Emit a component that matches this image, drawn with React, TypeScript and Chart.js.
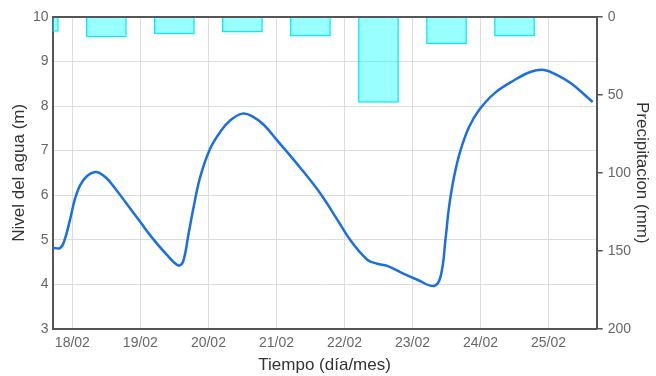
import React, { useEffect, useRef } from "react";
import { Chart, registerables } from "chart.js";

Chart.register(...registerables);

// Water level samples: time in days (day-of-month, February), level in metres
const levelDays = [
  17.715, 17.818, 17.877, 17.966, 18.039, 18.113, 18.216, 18.334, 18.408, 18.496,
  18.584, 18.801, 18.997, 19.174, 19.39, 19.561, 19.63, 19.708, 19.782, 19.88,
  20.028, 20.175, 20.322, 20.499, 20.646, 20.813, 21.01, 21.353, 21.648, 21.894,
  22.09, 22.336, 22.483, 22.63, 22.874, 23.072, 23.316, 23.415, 23.489, 23.537,
  23.611, 23.707, 23.832, 23.979, 24.2, 24.495, 24.741, 24.936, 25.134, 25.33,
  25.649,
];
const levelValues = [
  4.82, 4.81, 4.95, 5.45, 5.92, 6.22, 6.43, 6.52, 6.49, 6.39,
  6.24, 5.8, 5.4, 5.04, 4.66, 4.42, 4.52, 5.13, 5.73, 6.41,
  7.05, 7.42, 7.68, 7.83, 7.77, 7.58, 7.23, 6.61, 6.03, 5.45,
  4.98, 4.55, 4.46, 4.41, 4.23, 4.1, 3.96, 4.18, 5.06, 5.73,
  6.41, 7.01, 7.53, 7.91, 8.28, 8.58, 8.77, 8.81, 8.69, 8.51,
  8.09,
];

// Daily precipitation (bars centred at noon)
const precipDays = [17.5, 18.5, 19.5, 20.5, 21.5, 22.5, 23.5, 24.5];
const precipValues = [9.5, 13, 11, 10, 12.5, 55, 17.5, 12.5];

// X axis ticks
const tickDays = [18, 19, 20, 21, 22, 23, 24, 25];
const tickLabels = ["18/02", "19/02", "20/02", "21/02", "22/02", "23/02", "24/02", "25/02"];

const X_MIN = 17.708;
const X_MAX = 25.708;

export default function App() {
  const ref = useRef<HTMLCanvasElement | null>(null);

  useEffect(() => {
    if (!ref.current) return;
    Chart.defaults.font.family = 'Arial, "Liberation Sans", sans-serif';
    const tickFont = { size: 14 };
    const titleFont = { size: 17 };
    const tickColor = "#666";
    const titleColor = "#333";
    const gridColor = "#dcdcdc";
    const axisColor = "#555";

    const chart = new Chart(ref.current, {
      type: "bar",
      data: {
        datasets: [
          {
            type: "line",
            label: "Nivel del agua",
            data: levelDays.map((d, i) => ({ x: d, y: levelValues[i] })),
            yAxisID: "y",
            xAxisID: "x",
            borderColor: "#1a6fe3",
            borderWidth: 2.5,
            pointRadius: 0,
            fill: false,
            tension: 0.4,
            order: 0,
          },
          {
            type: "bar",
            label: "Precipitacion",
            data: precipDays.map((d, i) => ({ x: d, y: precipValues[i] })),
            yAxisID: "y2",
            xAxisID: "x",
            backgroundColor: "rgba(0,255,255,0.4)",
            borderColor: "#00eef5",
            borderWidth: 1.5,
            barPercentage: 0.6,
            categoryPercentage: 1,
            order: 1,
          },
        ],
      } as any,
      options: {
        animation: false,
        responsive: false,
        layout: { padding: { top: 17, left: 0, right: 0, bottom: 0 } },
        plugins: { legend: { display: false }, tooltip: { enabled: false } },
        scales: {
          x: {
            type: "linear",
            position: "bottom",
            min: X_MIN,
            max: X_MAX,
            offset: false,
            afterBuildTicks: (axis: any) => {
              axis.ticks = tickDays.map((v) => ({ value: v }));
            },
            afterFit: (s: any) => {
              s.height = 47.3;
            },
            ticks: {
              autoSkip: false,
              maxRotation: 0,
              color: tickColor,
              font: tickFont,
              padding: 6,
              callback: (v: any) => {
                const i = tickDays.indexOf(Number(v));
                return i >= 0 ? tickLabels[i] : "";
              },
            },
            grid: { color: gridColor, drawTicks: false, offset: false },
            border: { color: axisColor, width: 2 },
            title: {
              display: true,
              text: "Tiempo (día/mes)",
              color: titleColor,
              font: titleFont,
              padding: { top: 0, bottom: 0 },
            },
          },
          xTop: {
            type: "linear",
            position: "top",
            ticks: { display: false },
            grid: { display: false, drawTicks: false },
            border: { color: axisColor, width: 2 },
            afterFit: (s: any) => {
              s.height = 0;
            },
          },
          y: {
            position: "left",
            min: 3,
            max: 10,
            afterFit: (s: any) => {
              s.width = 52.5;
            },
            ticks: { stepSize: 1, color: tickColor, font: tickFont, padding: 4 },
            grid: { color: gridColor, drawTicks: false },
            border: { color: axisColor, width: 2 },
            title: {
              display: true,
              text: "Nivel del agua (m)",
              color: titleColor,
              font: titleFont,
              padding: { top: 9.3, bottom: 0 },
            },
          },
          y2: {
            position: "right",
            min: 0,
            max: 200,
            reverse: true,
            afterFit: (s: any) => {
              s.width = 59.3;
            },
            ticks: { stepSize: 50, color: tickColor, font: tickFont, padding: 5 },
            grid: { drawOnChartArea: false, color: axisColor, tickLength: 6, lineWidth: 1.5 },
            border: { color: axisColor, width: 2 },
            title: {
              display: true,
              text: "Precipitacion (mm)",
              color: titleColor,
              font: titleFont,
              padding: { top: 4.3, bottom: 0 },
            },
          },
        },
      } as any,
    });
    return () => chart.destroy();
  }, []);

  return (
    <div style={{ position: "fixed", left: 0, top: 0, width: 656, height: 376, background: "#fff" }}>
      <canvas ref={ref} width={656} height={376} />
    </div>
  );
}
